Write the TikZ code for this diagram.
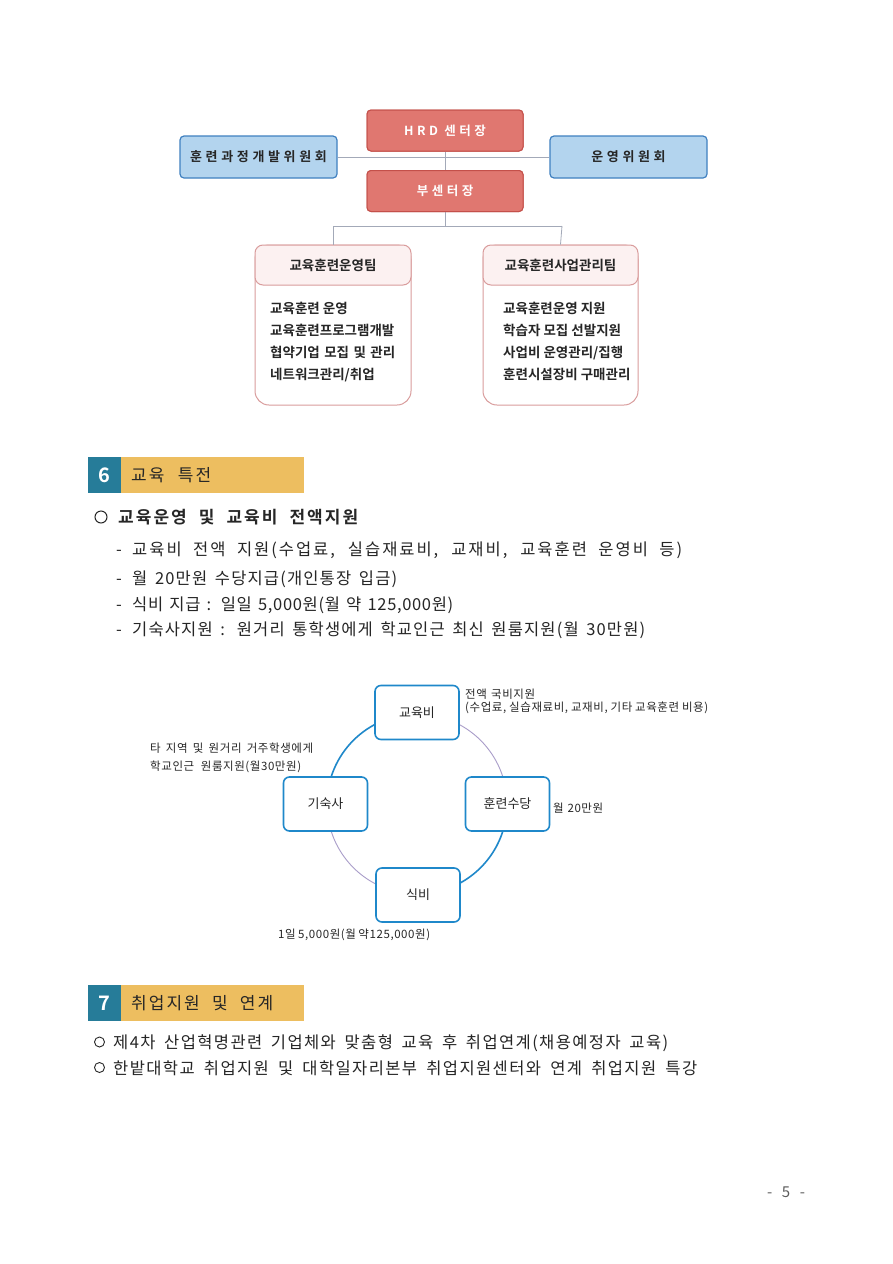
\documentclass[tikz,border=0pt]{standalone}
\usepackage{fontspec}
\setmainfont{Noto Sans CJK KR}[BoldFont={Noto Sans CJK KR Bold}]
\newfontfamily\krsp{Noto Sans CJK KR Bold}[LetterSpace=28]
\newfontfamily\lsA{Noto Sans CJK KR}[LetterSpace=12]
\newfontfamily\lsB{Noto Sans CJK KR}[LetterSpace=7]
\newfontfamily\lsC{Noto Sans CJK KR}[LetterSpace=4]
\newfontfamily\lsD{Noto Sans CJK KR}[LetterSpace=8.5]
\newfontfamily\lsT{Noto Sans CJK KR}[LetterSpace=12]
\newfontfamily\lsBold{Noto Sans CJK KR Bold}[LetterSpace=12]
\newfontfamily\lsS{Noto Sans CJK KR}[LetterSpace=5]
\newcommand\fitw[2]{\makebox[#1][s]{#2}}
\definecolor{redfill}{HTML}{E07770}
\definecolor{redline}{HTML}{C4504A}
\definecolor{bluefill}{HTML}{B3D4EE}
\definecolor{blueline}{HTML}{3F80C0}
\definecolor{pinkfill}{HTML}{FCF1F1}
\definecolor{pinkline}{HTML}{D99C9C}
\definecolor{connc}{HTML}{A3A9B8}
\definecolor{teal}{HTML}{267C99}
\definecolor{gold}{HTML}{EDBE60}
\definecolor{cyc}{HTML}{1F88CA}
\definecolor{arcp}{HTML}{A99DC9}
\definecolor{ink}{HTML}{262626}
\tikzset{
  redbox/.style={draw=redline, fill=redfill, rounded corners=4pt, line width=1pt,
    minimum width=156pt, minimum height=41pt, text=white,
    font=\krsp\fontsize{12.5}{14}\selectfont},
  bluebox/.style={draw=blueline, fill=bluefill, rounded corners=4pt, line width=1.2pt,
    minimum width=157pt, minimum height=42pt, text=ink,
    font=\krsp\fontsize{13}{14}\selectfont},
  conn/.style={draw=connc, line width=0.8pt},
  teamhead/.style={draw=pinkline, fill=pinkfill, rounded corners=8pt, line width=1pt,
    minimum width=156pt, minimum height=40pt, text=ink,
    font=\bfseries\fontsize{13.5}{15}\selectfont},
  teamtxt/.style={anchor=base west, inner sep=0pt, text=ink,
    font=\bfseries\fontsize{13.5}{15}\selectfont},
  body/.style={anchor=base west, inner sep=0pt, text=ink,
    font=\fontsize{16.5}{18}\selectfont},
  cycbox/.style={draw=cyc, fill=white, rounded corners=6pt, line width=1.6pt,
    minimum width=84pt, minimum height=54pt, text=ink,
    font=\fontsize{13}{15}\selectfont},
  small/.style={anchor=base west, inner sep=0pt, text=ink,
    font=\lsS\fontsize{11.5}{13}\selectfont},
  bul/.style={draw=ink, line width=1pt},
}
\begin{document}
\begin{tikzpicture}[x=1pt,y=-1pt]
\useasboundingbox (0,0) rectangle (893,1264);
\fill[white] (0,0) rectangle (893,1264);

% ---------- org chart ----------
\coordinate (jL) at (333,226);
\coordinate (jR) at (562,226);
\coordinate (jM) at (445,226);
\node[redbox] (hrd) at (445,130.5) {HRD 센터장};
\node[redbox] (vice) at (445,191) {부센터장};
\node[bluebox] (dev) at (258.5,157) {훈련과정개발위원회};
\node[bluebox] (ops) at (628.5,157) {운영위원회};
\draw[conn] (dev.east) -- (ops.west);
\draw[conn] (hrd.south) -- (vice.north);
\draw[conn] (vice.south) -- (jM);
\draw[conn] (jL) -- (jR);
% boxes drawn again above the crossing line
\node[redbox] at (445,130.5) {HRD 센터장};
\node[redbox] at (445,191) {부센터장};

% team boxes
\draw[draw=pinkline, fill=white, line width=1pt, rounded corners=14pt] (255,245) rectangle (411,405);
\node[teamhead] (teamA) at (333,265) {교육훈련운영팀};
\draw[draw=pinkline, fill=white, line width=1pt, rounded corners=14pt] (483,245) rectangle (638,405);
\node[teamhead, minimum width=155pt] (teamB) at (560.5,265) {교육훈련사업관리팀};
\draw[conn] (jL) -- (teamA.north);
\draw[conn] (jR) -- (teamB.north);

\node[teamtxt] (a1) at (270,313) {교육훈련 운영};
\node[teamtxt] (a2) at (270,335) {교육훈련프로그램개발};
\node[teamtxt] (a3) at (270,357) {\fitw{125pt}{협약기업 모집 및 관리}};
\node[teamtxt] (a4) at (270,379) {네트워크관리/취업};
\node[teamtxt] (b1) at (503,313) {교육훈련운영 지원};
\node[teamtxt] (b2) at (503,335) {학습자 모집 선발지원};
\node[teamtxt] (b3) at (503,357) {사업비 운영관리/집행};
\node[teamtxt] (b4) at (503,379) {훈련시설장비 구매관리};

% ---------- section 6 ----------
\fill[teal] (88,457) rectangle (121,493);
\fill[gold] (121,457) rectangle (304,493);
\node[text=white, font=\bfseries\fontsize{20}{22}\selectfont] (s6n) at (104.5,475) {6};
\node[anchor=base west, inner sep=0pt, text=ink, font=\lsT\fontsize{17}{19}\selectfont] (s6t) at (131,481) {\fitw{80pt}{교육 특전}};

\draw[bul] (101,517) circle (6);
\node[anchor=base west, inner sep=0pt, text=ink, font=\lsBold\fontsize{17}{19}\selectfont] (h6) at (118,523) {\fitw{240pt}{교육운영 및 교육비 전액지원}};
\node[body] (d1) at (116,555) {-};
\node[body] (d2) at (116,584) {-};
\node[body] (d3) at (116,610) {-};
\node[body] (d4) at (116,635) {-};
\node[body, font=\lsA\fontsize{16.5}{18}\selectfont] (l1) at (132,555) {\fitw{550pt}{교육비 전액 지원(수업료, 실습재료비, 교재비, 교육훈련 운영비 등)}};
\node[body, font=\lsB\fontsize{16.5}{18}\selectfont] (l2) at (132,584) {\fitw{265pt}{월 20만원 수당지급(개인통장 입금)}};
\node[body, font=\lsC\fontsize{16.5}{18}\selectfont] (l3) at (132,610) {\fitw{321pt}{식비 지급 : 일일 5,000원(월 약 125,000원)}};
\node[body, font=\lsB\fontsize{16.5}{18}\selectfont] (l4) at (132,635) {\fitw{513pt}{기숙사지원 : 원거리 통학생에게 학교인근 최신 원룸지원(월 30만원)}};

% ---------- cycle diagram ----------
\coordinate (cc) at (417,804);
% y axis points down: 180-270 is upper left, 0-90 is lower right
\draw[cyc, line width=1.6pt] (cc) ++(180:90) arc (180:270:90);
\draw[cyc, line width=1.6pt] (cc) ++(0:90) arc (0:90:90);
\draw[arcp, line width=0.9pt] (cc) ++(270:90) arc (270:360:90);
\draw[arcp, line width=0.9pt] (cc) ++(90:90) arc (90:180:90);
\node[cycbox] (edu) at (417,712.5) {교육비};
\node[cycbox] (allow) at (507.5,804) {훈련수당};
\node[cycbox] (dorm) at (325.5,804) {기숙사};
\node[cycbox] (meal) at (418,895) {식비};

\node[small] (c1) at (465,698) {\fitw{70pt}{전액 국비지원}};
\node[small] (c2) at (465,711) {\fitw{243pt}{(수업료, 실습재료비, 교재비, 기타 교육훈련 비용)}};
\node[small] (c3) at (150,752) {\fitw{163pt}{타 지역 및 원거리 거주학생에게}};
\node[small] (c4) at (150,770) {\fitw{151pt}{학교인근 원룸지원(월30만원)}};
\node[small] (c5) at (553,812) {\fitw{50pt}{월 20만원}};
\node[small] (c6) at (278,938) {\fitw{152pt}{1일 5,000원(월 약125,000원)}};

% ---------- section 7 ----------
\fill[teal] (88,985) rectangle (121,1021);
\fill[gold] (121,985) rectangle (304,1021);
\node[text=white, font=\bfseries\fontsize{20}{22}\selectfont] (s7n) at (104.5,1003) {7};
\node[anchor=base west, inner sep=0pt, text=ink, font=\lsT\fontsize{17}{19}\selectfont] (s7t) at (131,1009) {\fitw{142pt}{취업지원 및 연계}};

\draw[bul, line width=0.9pt] (99.5,1042) circle (5);
\draw[bul, line width=0.9pt] (99.5,1067.5) circle (5);
\node[body, font=\lsD\fontsize{16.5}{18}\selectfont] (m1) at (113,1048) {\fitw{555pt}{제4차 산업혁명관련 기업체와 맞춤형 교육 후 취업연계(채용예정자 교육)}};
\node[body, font=\lsD\fontsize{16.5}{18}\selectfont] (m2) at (113,1074) {\fitw{584pt}{한밭대학교 취업지원 및 대학일자리본부 취업지원센터와 연계 취업지원 특강}};

% page number
\node[text=ink!75, font=\fontsize{15}{16}\selectfont] (pg) at (786,1192) {\fitw{38pt}{- 5 -}};
\end{tikzpicture}
\end{document}
